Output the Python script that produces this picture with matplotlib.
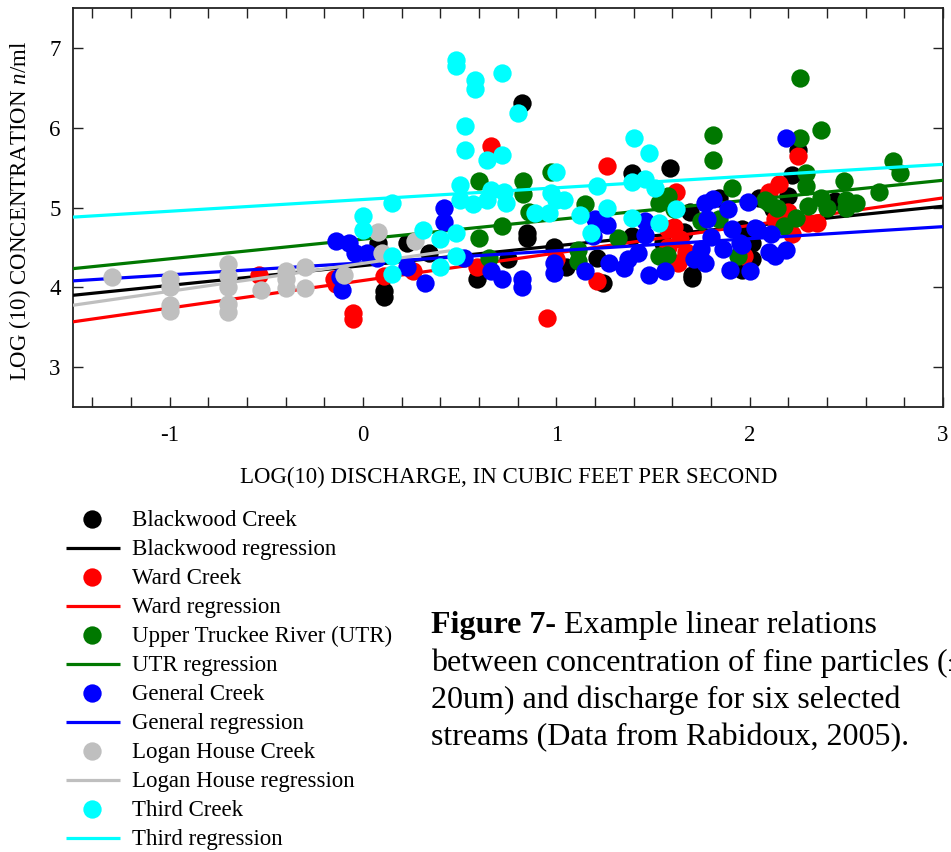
import matplotlib
matplotlib.use("Agg")
import matplotlib.pyplot as plt
from matplotlib.lines import Line2D
from matplotlib.ticker import MultipleLocator, FixedLocator
import numpy as np

plt.rcParams['font.family'] = ['Liberation Serif', 'DejaVu Serif']
plt.rcParams['mathtext.fontset'] = 'custom'
plt.rcParams['mathtext.rm'] = 'Liberation Serif'
plt.rcParams['mathtext.it'] = 'Liberation Serif:italic'
plt.rcParams['axes.unicode_minus'] = False

# ---------------- data (log10 discharge, log10 concentration) ----------------
blackwood_x = [0.82, 0.11, 0.11, 0.08, 0.23, 0.34, 0.59, 0.75, 0.85, 0.85, 0.99, 1.05, 1.24,
               1.21, 1.39, 1.39, 1.59, 1.69, 1.70, 1.70, 1.84, 1.96, 2.01, 2.25, 2.22, 2.20,
               2.44, 2.05, 1.66, 1.96, 2.01, 1.55, 2.12]
blackwood_y = [6.31, 3.95, 3.88, 4.56, 4.56, 4.43, 4.10, 4.35, 4.68, 4.62, 4.50, 4.26, 4.05,
               4.37, 5.43, 4.64, 5.49, 4.94, 4.16, 4.12, 5.12, 4.22, 4.35, 5.72, 5.41, 5.14,
               5.08, 5.12, 4.69, 4.73, 4.56, 4.55, 4.98]

ward_x = [-0.54, -0.15, -0.14, -0.05, -0.05, 0.66, 1.26, 0.95, 0.11, 0.26, 0.59, 1.21, 1.00,
          1.62, 1.61, 1.58, 1.67, 1.54, 1.75, 1.58, 1.63, 1.97, 2.10, 2.15, 2.25, 2.13, 2.22,
          2.35, 2.20, 2.30, 1.64]
ward_y = [4.15, 4.10, 4.04, 3.68, 3.60, 5.77, 5.52, 3.62, 4.14, 4.20, 4.25, 4.08, 4.35,
          5.19, 4.76, 4.51, 4.44, 4.39, 4.35, 4.73, 4.31, 4.39, 5.20, 5.30, 5.64, 4.85, 4.67,
          4.81, 4.94, 4.81, 4.60]

utr_x = [0.60, 0.83, 0.83, 0.97, 1.15, 0.60, 0.72, 0.86, 1.11, 1.11, 1.32, 0.65, 1.53, 1.53,
         1.58, 1.81, 1.81, 1.91, 1.56, 1.61, 1.84, 1.75, 1.57, 1.94, 2.10, 2.26, 2.37, 2.26,
         2.74, 2.78, 2.49, 2.67, 2.29, 2.29, 2.37, 2.50, 2.55, 2.50, 2.40, 2.30, 2.08, 2.14,
         2.24, 2.18]
utr_y = [5.33, 5.33, 5.17, 5.45, 5.04, 4.62, 4.77, 4.94, 4.47, 4.33, 4.62, 4.37, 5.06, 4.39,
         5.14, 5.91, 5.60, 5.25, 5.10, 4.98, 4.85, 4.83, 4.41, 4.39, 5.06, 6.62, 5.97, 5.87,
         5.58, 5.43, 5.33, 5.20, 5.43, 5.27, 5.12, 5.10, 5.06, 5.00, 5.00, 5.02, 5.10, 5.00,
         4.87, 4.77]

general_x = [-0.14, -0.07, -0.04, 0.02, -0.12, -0.11, 0.07, 0.23, 0.32, 0.42, 0.42, 0.52,
             0.66, 0.72, 0.82, 0.82, 0.99, 0.99, 1.15, 1.27, 1.35, 1.48, 1.20, 1.26, 1.46,
             1.46, 1.42, 1.19, 1.37, 1.56, 1.77, 1.81, 1.89, 1.99, 1.78, 1.80, 1.91, 2.03,
             2.11, 2.10, 1.75, 1.71, 1.77, 1.90, 2.00, 1.86, 1.96, 2.19, 2.19, 2.13, 1.95, 2.04]
general_y = [4.58, 4.56, 4.43, 4.43, 4.13, 3.96, 4.37, 4.25, 4.06, 5.00, 4.82, 4.37,
             4.21, 4.11, 4.10, 4.00, 4.31, 4.18, 4.21, 4.30, 4.24, 4.16, 4.86, 4.78, 4.83,
             4.66, 4.43, 4.64, 4.35, 4.21, 5.06, 5.11, 4.98, 5.07, 4.85, 4.63, 4.73, 4.74,
             4.67, 4.44, 4.48, 4.35, 4.31, 4.22, 4.20, 4.48, 4.53, 5.87, 4.47, 4.39, 4.56, 4.73]

logan_x = [-1.30, -1.00, -1.00, -1.00, -1.00, -0.70, -0.70, -0.70, -0.70, -0.70, -0.53,
           -0.40, -0.40, -0.40, -0.30, -0.30, -0.10, 0.08, 0.27, 0.10]
logan_y = [4.13, 4.10, 4.00, 3.78, 3.70, 4.29, 4.14, 4.00, 3.79, 3.69, 3.97,
           4.20, 4.10, 3.99, 4.25, 3.99, 4.16, 4.69, 4.58, 4.43]

third_x = [0.48, 0.48, 0.58, 0.58, 0.72, 0.80, 0.53, 0.53, 0.72, 0.64, 1.00, 0.50, 0.66, 0.73,
           0.50, 0.57, 0.64, 0.74, 0.97, 1.04, 1.00, 0.89, 0.96, 1.12, 1.21, 1.40, 1.48, 0.15,
           0.00, 0.00, 0.31, 0.40, 0.48, 0.15, 0.15, 0.40, 0.48, 1.18, 1.26, 1.39, 1.46, 1.51,
           1.53, 1.39, 1.62]
third_y = [6.85, 6.77, 6.60, 6.48, 6.68, 6.18, 6.02, 5.72, 5.66, 5.59, 5.44, 5.28, 5.22, 5.20,
           5.10, 5.04, 5.10, 5.06, 5.18, 5.10, 5.10, 4.93, 4.93, 4.90, 5.27, 5.87, 5.68, 5.06,
           4.89, 4.72, 4.72, 4.60, 4.68, 4.39, 4.17, 4.25, 4.39, 4.68, 5.00, 5.32, 5.36, 5.24,
           4.80, 4.87, 4.98]

# regression lines: slope, intercept, x-range
reg_slope = [0.248, 0.345, 0.246, 0.151, 0.35, 0.147]
reg_intercept = [4.272, 4.085, 4.603, 4.307, 4.30, 5.10]
reg_xmin = [-1.5, -1.5, -1.5, -1.5, -1.5, -1.5]
reg_xmax = [3.0, 3.0, 3.0, 3.0, 0.45, 3.0]

point_labels = ["Blackwood Creek", "Ward Creek", "Upper Truckee River (UTR)",
                "General Creek", "Logan House Creek", "Third Creek"]
line_labels = ["Blackwood regression", "Ward regression", "UTR regression",
               "General regression", "Logan House regression", "Third regression"]
colors = ["#000000", "#ff0000", "#007800", "#0000ff", "#bfbfbf", "#00ffff"]

xs = [blackwood_x, ward_x, utr_x, general_x, logan_x, third_x]
ys = [blackwood_y, ward_y, utr_y, general_y, logan_y, third_y]

W, H = 951, 852
fig = plt.figure(figsize=(W / 100, H / 100), dpi=100)

def fx(px):
    return px / W

def fy(py):
    return 1 - py / H

ax = fig.add_axes([fx(73), fy(407), fx(943) - fx(73), fy(8) - fy(407)])
ax.set_xlim(-1.5, 3.0)
ax.set_ylim(2.5, 7.5)

ms = 13.2
for i in range(6):
    ax.plot(xs[i], ys[i], linestyle='none', marker='o', markersize=ms,
            markerfacecolor=colors[i], markeredgecolor='none', zorder=2 + 2 * i)
    xl = np.array([reg_xmin[i], reg_xmax[i]])
    ax.plot(xl, reg_intercept[i] + reg_slope[i] * xl, color=colors[i], lw=2.3,
            solid_capstyle='butt', zorder=3 + 2 * i)

ax.xaxis.set_major_locator(FixedLocator([-1, 0, 1, 2, 3]))
ax.xaxis.set_minor_locator(MultipleLocator(0.2))
ax.yaxis.set_major_locator(FixedLocator([3, 4, 5, 6, 7]))
ax.tick_params(which='both', direction='in', top=True, right=True, length=7.2,
               width=1.0, colors='#222222')
ax.tick_params(axis='x', which='major', pad=13, labelsize=16.5, labelcolor='black')
ax.tick_params(axis='y', which='major', pad=9, labelsize=16.5, labelcolor='black')
for s in ax.spines.values():
    s.set_linewidth(1.3)
    s.set_color('#222222')

fig.text(fx(509), fy(477), "LOG(10) DISCHARGE, IN CUBIC FEET PER SECOND",
         ha='center', va='center', fontsize=16.5)
fig.text(fx(20), fy(211), r"LOG (10) CONCENTRATION $n$/ml", rotation=90,
         ha='center', va='center', fontsize=16.5)

# legend drawn row by row
row0 = 519.3
dy = 28.95
for i in range(6):
    ym = row0 + (2 * i) * dy
    yl = row0 + (2 * i + 1) * dy
    fig.add_artist(Line2D([fx(92.3)], [fy(ym)], marker='o', markersize=ms,
                          markerfacecolor=colors[i], markeredgecolor='none',
                          linestyle='none'))
    fig.text(fx(131.5), fy(ym + 7.2), point_labels[i], ha='left', va='baseline',
             fontsize=16.5)
    fig.add_artist(Line2D([fx(65.7), fx(119.5)], [fy(yl), fy(yl)], color=colors[i],
                          lw=2.3, solid_capstyle='butt'))
    fig.text(fx(131.5), fy(yl + 7.2), line_labels[i], ha='left', va='baseline',
             fontsize=16.5)

# caption
cap_fs = 23
cx = 431
t0 = fig.text(fx(cx), fy(633.3), "Figure 7-", ha='left', va='baseline',
              fontsize=cap_fs, fontweight='bold')
fig.canvas.draw()
bb = t0.get_window_extent(renderer=fig.canvas.get_renderer())
space_px = 0.25 * cap_fs * 100 / 72
fig.text((bb.x1 + space_px) / W, fy(633.3), "Example linear relations", ha='left',
         va='baseline', fontsize=cap_fs)
cap_lines = ["between concentration of fine particles (\u2264",
             "20um) and discharge for six selected",
             "streams (Data from Rabidoux, 2005)."]
for k, line in enumerate(cap_lines):
    fig.text(fx(cx), fy(633.3 + 37.3 * (k + 1)), line, ha='left', va='baseline',
             fontsize=cap_fs)

fig.savefig("out.png", dpi=100)
